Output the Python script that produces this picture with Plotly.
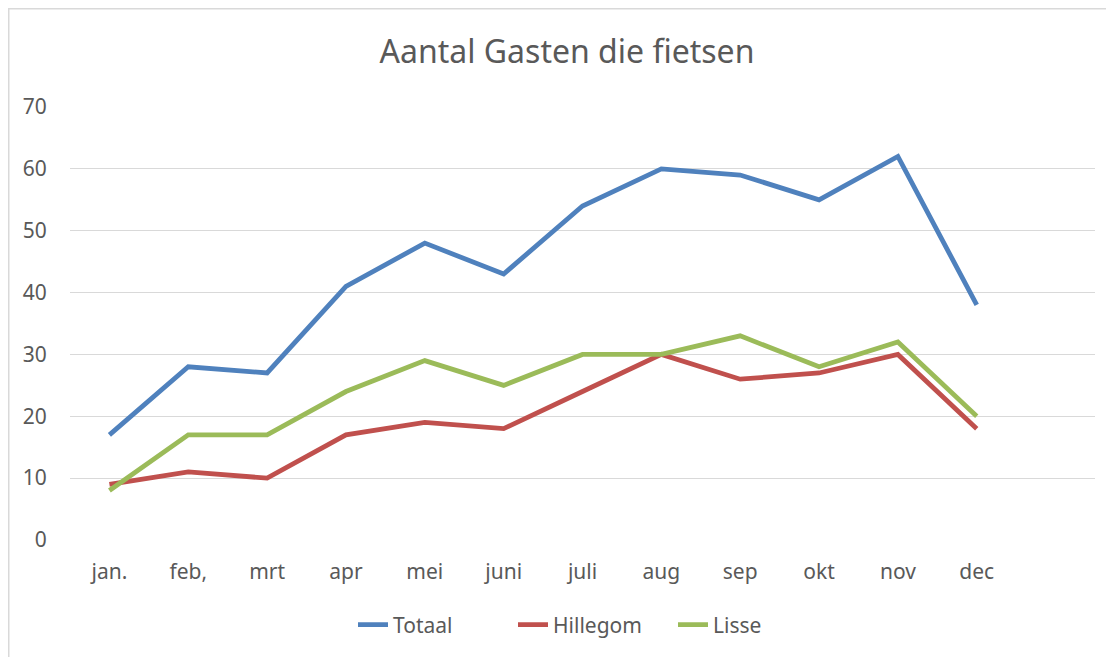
import plotly.graph_objects as go

months = ["jan.", "feb,", "mrt", "apr", "mei", "juni", "juli", "aug", "sep", "okt", "nov", "dec"]
totaal = [17, 28, 27, 41, 48, 43, 54, 60, 59, 55, 62, 38]
hillegom = [9, 11, 10, 17, 19, 18, 24, 30, 26, 27, 30, 18]
lisse = [8, 17, 17, 24, 29, 25, 30, 30, 33, 28, 32, 20]
y_ticks = [0, 10, 20, 30, 40, 50, 60, 70]

FONT = "Noto Sans"
TXT = "#595959"

W, H = 1106, 649
L, T, PW, PH = 62, 99, 1025, 433

fig = go.Figure()
for name, vals, col in [("Totaal", totaal, "#4f81bd"),
                        ("Hillegom", hillegom, "#c0504d"),
                        ("Lisse", lisse, "#9bbb59")]:
    fig.add_trace(go.Scatter(x=months, y=vals, name=name, mode="lines",
                             line=dict(color=col, width=4.8)))

fig.update_layout(
    width=W, height=H,
    margin=dict(l=L, r=W - L - PW, t=T, b=H - T - PH, pad=0),
    paper_bgcolor="white", plot_bgcolor="white",
    font=dict(family=FONT, color=TXT, size=21),
    title=dict(text="Aantal Gasten die fietsen", x=(567 - 8) / W, xanchor="center",
               y=1 - 44 / H, yanchor="middle", yref="container",
               font=dict(size=32, color=TXT, family=FONT)),
    xaxis=dict(type="category", categoryorder="array", categoryarray=months,
               range=[-0.5, 12.5], showgrid=False, zeroline=False,
               showline=False, ticks="", ticklabelstandoff=17,
               tickfont=dict(size=21, color=TXT)),
    yaxis=dict(range=[0, 70], tickvals=y_ticks, showgrid=True, gridcolor="#d9d9d9",
               gridwidth=1.3, zeroline=False, showline=False,
               ticks="outside", ticklen=18, tickcolor="rgba(0,0,0,0)",
               tickfont=dict(size=21, color=TXT)),
    legend=dict(orientation="h", x=(353 - 70) / PW, xanchor="left",
                y=(540 - 625) / PH, yanchor="middle", font=dict(size=21, color=TXT),
                itemwidth=30, entrywidth=115, tracegroupgap=0),
    showlegend=True,
)

fig.add_shape(type="rect", xref="paper", yref="paper",
              x0=(0.75 - L) / PW, x1=(W + 20 - L) / PW,
              y0=(T + PH - H - 20) / PH, y1=(T + PH - 0.75) / PH,
              line=dict(color="#d9d9d9", width=1.5), fillcolor="rgba(0,0,0,0)",
              layer="below")

fig.write_html("out.html")
